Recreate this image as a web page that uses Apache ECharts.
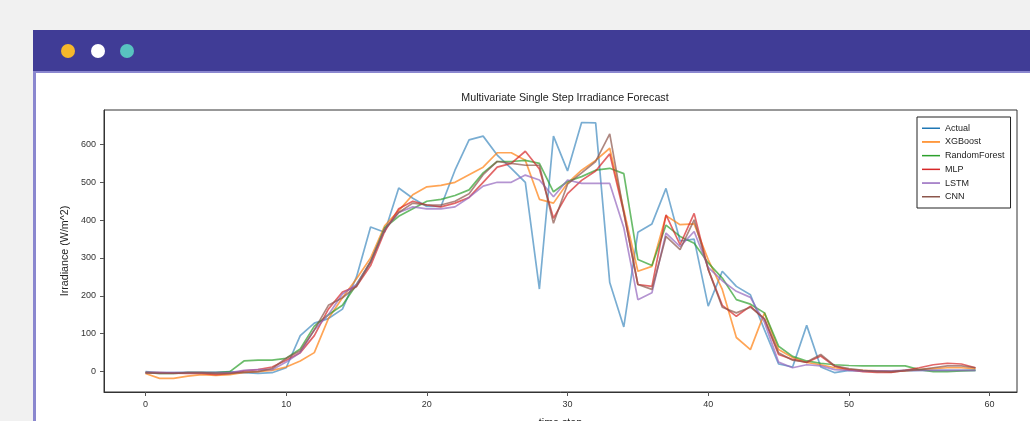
<!DOCTYPE html>
<html>
<head>
<meta charset="utf-8">
<script src="https://cdn.jsdelivr.net/npm/echarts@6/dist/echarts.min.js"></script>
<style>
html,body{margin:0;padding:0;width:1030px;height:421px;overflow:hidden;background:#f1f1f1;font-family:"Liberation Sans",Arial,sans-serif;}
#frame{position:absolute;left:33px;top:30px;width:1010px;height:400px;background:#fff;}
#header{position:absolute;left:0;top:0;width:100%;height:41px;background:#403c96;}
#hline{position:absolute;left:0;top:41px;width:100%;height:2px;background:#8a87cf;}
#lborder{position:absolute;left:0;top:41px;width:3px;height:400px;background:#8a87cf;}
.dot{position:absolute;top:14px;width:14px;height:14px;border-radius:50%;}
#chart{position:absolute;left:0;top:0;width:1030px;height:421px;}
</style>
</head>
<body>
<div id="frame">
  <div id="header">
    <div class="dot" style="left:28px;background:#f6b82b;"></div>
    <div class="dot" style="left:58px;background:#ffffff;"></div>
    <div class="dot" style="left:87px;background:#58c3c0;"></div>
  </div>
  <div id="hline"></div>
  <div id="lborder"></div>
</div>
<div id="chart"></div>
<script>
const seriesNames = ['Actual','XGBoost','RandomForest','MLP','LSTM','CNN'];
const xTicks = [0,10,20,30,40,50,60];
const yTicks = [0,100,200,300,400,500,600];

const actual = [0,-3,-3,-2,-2,-2,0,-3,-5,-3,10,95,128,140,165,250,382,368,485,458,436,436,532,612,622,572,537,500,218,622,530,658,657,235,118,368,390,484,345,350,173,265,225,203,110,20,12,122,12,-3,3,2,2,0,2,3,3,3,3,3];
const xgboost = [-5,-18,-18,-12,-8,-10,-8,-2,0,3,12,28,50,140,195,245,300,385,425,467,488,492,500,520,540,578,578,558,455,445,498,532,558,590,427,265,278,412,388,390,296,217,90,58,155,58,37,24,18,10,5,3,2,0,2,5,8,10,10,8];
const randomForest = [-3,-5,-5,-3,-3,-3,0,28,30,30,35,60,120,150,175,230,290,380,410,430,450,455,465,480,525,555,555,558,550,475,502,515,532,537,523,296,280,387,357,339,287,247,190,178,155,67,40,28,22,18,16,15,15,15,15,5,0,0,2,3];
const mlp = [-3,-3,-4,-5,-5,-8,-5,2,5,12,30,50,95,165,210,225,280,370,430,450,440,435,445,460,500,540,550,582,535,405,470,505,530,575,420,230,225,414,335,418,270,175,146,173,138,45,32,24,41,14,5,0,-2,-2,3,10,18,22,20,10];
const lstm = [-3,-3,-3,-3,-3,-3,-3,3,5,5,25,50,110,150,205,230,290,375,420,435,430,430,435,460,490,500,500,519,506,462,506,497,497,497,380,190,208,366,330,370,275,240,212,196,130,25,10,18,15,5,3,2,2,2,3,3,3,3,3,3];
const cnn = [-3,-5,-5,-3,-3,-5,-5,-2,0,8,35,55,110,175,195,225,290,375,420,445,440,440,450,470,520,555,550,545,545,392,495,525,555,628,420,230,217,357,322,401,270,170,155,170,140,50,30,25,45,15,8,3,0,0,3,5,10,15,15,10];

const seriesData = [actual, xgboost, randomForest, mlp, lstm, cnn];
const colors = ['#1f77b4','#ff7f0e','#2ca02c','#d62728','#9467bd','#8c564b'];

const chart = echarts.init(document.getElementById('chart'), null, {renderer:'canvas'});
const txt = '#333333';
chart.setOption({
  animation:false,
  backgroundColor:'transparent',
  color: colors,
  title:{
    text:'Multivariate Single Step Irradiance Forecast',
    left:560, top:88, textAlign:'center',
    textStyle:{fontSize:10.7,fontWeight:'normal',color:'#222',fontFamily:'Liberation Sans'}
  },
  legend:{
    orient:'vertical', left:917, top:117,
    data: seriesNames,
    icon:'rect',
    itemWidth:18, itemHeight:1.5, itemGap:3.2,
    padding:[6,6,6,5],
    borderColor:'#222', borderWidth:1, backgroundColor:'#fff',
    itemStyle:{opacity:1},
    textStyle:{fontSize:9,color:'#222',fontFamily:'Liberation Sans',lineHeight:10.5}
  },
  grid:{left:104, top:110, right:13, bottom:29, outerBoundsMode:'none', containLabel:false,
        show:true, borderColor:'#333', borderWidth:1, backgroundColor:'transparent'},
  xAxis:{
    type:'value', min:-2.95, max:61.95,
    name:'time step', nameLocation:'middle', nameGap:26,
    nameTextStyle:{fontSize:10.7,color:'#222',fontFamily:'Liberation Sans'},
    axisLine:{show:true,onZero:false,lineStyle:{color:'#333'}},
    splitLine:{show:false},
    axisTick:{show:true,length:4,lineStyle:{color:'#555'},customValues:xTicks},
    axisLabel:{fontSize:9,color:txt,margin:8,customValues:xTicks,fontFamily:'Liberation Sans'}
  },
  yAxis:{
    type:'value', min:-54, max:691,
    name:'Irradiance (W/m^2)', nameLocation:'middle', nameGap:32,
    nameTextStyle:{fontSize:10.7,color:'#222',fontFamily:'Liberation Sans'},
    axisLine:{show:true,onZero:false,lineStyle:{color:'#333'}},
    splitLine:{show:false},
    axisTick:{show:true,length:4,lineStyle:{color:'#555'},customValues:yTicks},
    axisLabel:{fontSize:9,color:txt,margin:8,customValues:yTicks,fontFamily:'Liberation Sans'}
  },
  series: seriesNames.map((n,k)=>({
    name:n, type:'line', symbol:'none', showSymbol:false,
    data: seriesData[k].map((v,i)=>[i,v]),
    lineStyle:{width:1.7, color:colors[k], opacity: k===0?0.6:0.7},
    itemStyle:{color:colors[k]},
    emphasis:{disabled:true}
  }))
});
</script>
</body>
</html>
